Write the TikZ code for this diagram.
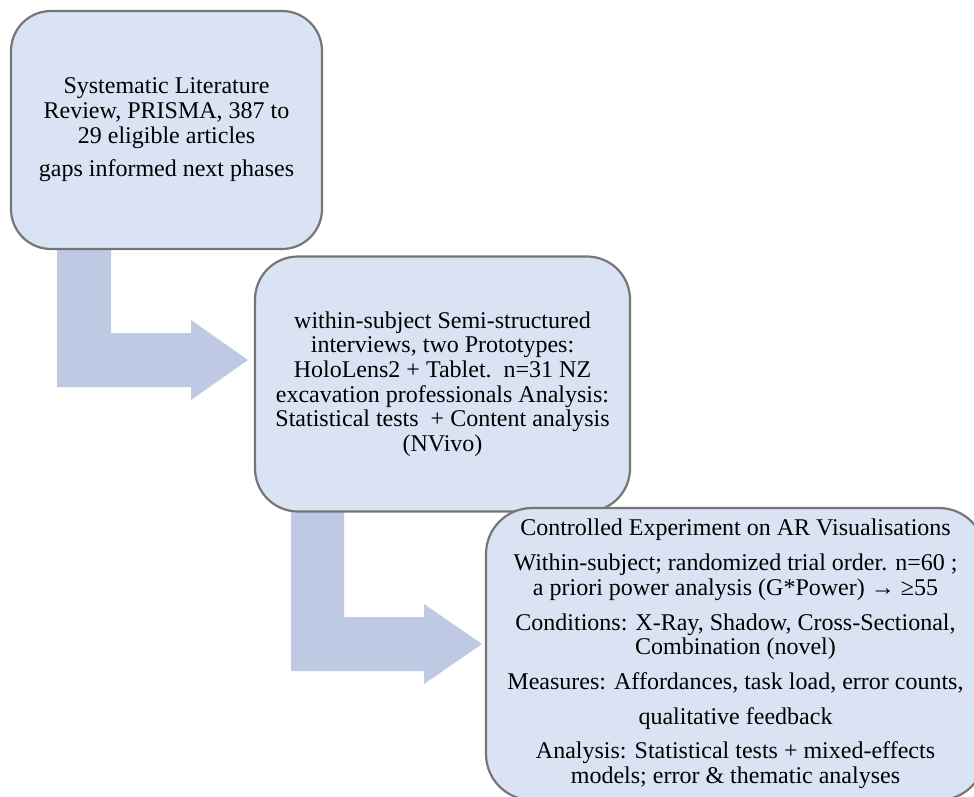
\documentclass[tikz,border=0pt]{standalone}
\usepackage{fontspec}
\setmainfont{Liberation Serif}
\definecolor{boxfill}{HTML}{DAE3F3}
\definecolor{boxline}{HTML}{767676}
\definecolor{arrowfill}{HTML}{BFC9E4}
\begin{document}
\begin{tikzpicture}[x=1pt,y=-1pt,
  phase/.style={draw=boxline, fill=boxfill, line width=2.2pt, rectangle,
    inner sep=0pt, align=center,
    font=\fontsize{24}{24.7}\selectfont},
  flow/.style={fill=arrowfill, draw=none}]
\useasboundingbox (0,0) rectangle (974,796);
\clip (0,0) rectangle (974,796);

% bent block arrows between the phases
\fill[flow] (57,248) -- (111,248) -- (111,333) -- (191,333) -- (191,320)
  -- (248,360) -- (191,400) -- (191,387) -- (57,387) -- cycle;
\fill[flow] (291,510) -- (344,510) -- (344,617) -- (424,617) -- (424,604)
  -- (482,644) -- (424,684) -- (424,671) -- (291,671) -- cycle;

% phase 1
\node[phase, rounded corners=40pt, minimum width=311pt, minimum height=238pt]
  (p1) at (166.5,130) {Systematic Literature\\ Review, PRISMA, 387 to\\ 29 eligible articles\\[9pt] gaps informed next phases};

% phase 2
\node[phase, rounded corners=43pt, minimum width=375pt, minimum height=255pt]
  (p2) at (442.5,384) {within-subject Semi-structured\\ interviews, two Prototypes:\\ HoloLens2 + Tablet.\ \ n=31 NZ\\ excavation professionals Analysis:\\ Statistical tests\ \ + Content analysis\\ (NVivo)};

% phase 3
\node[phase, rounded corners=46pt, minimum width=499pt, minimum height=292pt]
  (p3) at (735.5,654) {Controlled Experiment on AR Visualisations\\[10pt]
  Within-subject; randomized trial order. n=60 ;\\ a priori power analysis (G*Power) → ≥55\\[10pt]
  Conditions: X-Ray, Shadow, Cross-Sectional,\\ Combination (novel)\\[10pt]
  Measures: Affordances, task load, error counts,\\[10pt]
  qualitative feedback\\[10pt]
  Analysis: Statistical tests + mixed-effects\\ models; error \& thematic analyses};
\end{tikzpicture}
\end{document}
